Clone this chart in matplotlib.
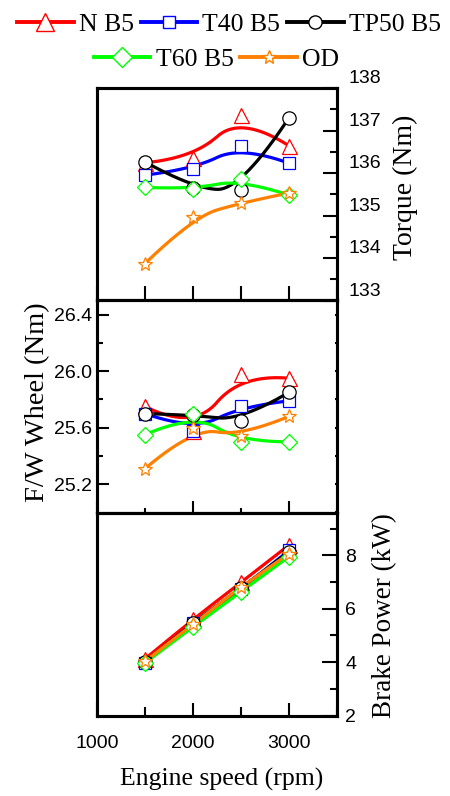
import numpy as np
import matplotlib
matplotlib.use("Agg")
import matplotlib.pyplot as plt
from matplotlib.lines import Line2D
from matplotlib.ticker import MultipleLocator, FixedLocator

# ---------------- data ----------------
speed_rpm = [1500, 2000, 2500, 3000]
series_names = ["N B5", "T40 B5", "TP50 B5", "T60 B5", "OD"]

torque_nb5 = [136.24, 136.35, 137.36, 136.64]
torque_t40b5 = [135.95, 136.09, 136.64, 136.23]
torque_tp50b5 = [136.26, 135.64, 135.59, 137.30]
torque_t60b5 = [135.66, 135.62, 135.85, 135.48]
torque_od = [133.87, 134.96, 135.30, 135.53]

fw_nb5 = [25.75, 25.58, 25.98, 25.95]
fw_t40b5 = [25.70, 25.58, 25.75, 25.79]
fw_tp50b5 = [25.70, 25.69, 25.65, 25.85]
fw_t60b5 = [25.55, 25.70, 25.50, 25.50]
fw_od = [25.31, 25.60, 25.54, 25.68]

bp_nb5 = [4.12, 5.60, 6.98, 8.38]
bp_t40b5 = [3.98, 5.48, 6.72, 8.18]
bp_tp50b5 = [4.02, 5.45, 6.78, 8.12]
bp_t60b5 = [3.97, 5.32, 6.63, 7.95]
bp_od = [4.03, 5.42, 6.82, 8.06]

torque_ticks = [133, 134, 135, 136, 137, 138]

# ---------------- style ----------------
colors = ["#FF0000", "#0000FF", "#000000", "#00FF00", "#FF8000"]
markers = ["^", "s", "o", "D", "*"]
msizes = [10.8, 9.0, 9.6, 8.0, 10.5]
leg_msizes = [12.5, 8.5, 9.5, 10.0, 10.5]

SERIF = ["Liberation Serif", "DejaVu Serif"]
SANS = ["Liberation Sans", "DejaVu Sans"]
plt.rcParams["font.family"] = SANS


def bspline2(x, y, n=80):
    """Clamped quadratic B-spline using the data points as control points."""
    P = np.column_stack([x, y]).astype(float)
    k = len(P)
    mids = [(P[i] + P[i + 1]) / 2 for i in range(1, k - 2)]
    starts = [P[0]] + mids
    ends = mids + [P[-1]]
    ctrl = P[1:-1]
    t = np.linspace(0, 1, n)[:, None]
    pts = [(1 - t) ** 2 * s + 2 * t * (1 - t) * c + t ** 2 * e
           for s, c, e in zip(starts, ctrl, ends)]
    pts = np.vstack(pts)
    return pts[:, 0], pts[:, 1]


W, H = 450, 796
fig = plt.figure(figsize=(W / 100, H / 100), dpi=100)


def px_axes(top, bottom, left=97, right=337):
    return fig.add_axes([left / W, (H - bottom) / H, (right - left) / W, (bottom - top) / H])


ax1 = px_axes(88, 300.5)
ax2 = px_axes(300.5, 512.5)
ax3 = px_axes(512.5, 715.5)

panels = [
    (ax1, [torque_nb5, torque_t40b5, torque_tp50b5, torque_t60b5, torque_od]),
    (ax2, [fw_nb5, fw_t40b5, fw_tp50b5, fw_t60b5, fw_od]),
    (ax3, [bp_nb5, bp_t40b5, bp_tp50b5, bp_t60b5, bp_od]),
]

for ax, data in panels:
    for vals, c, m, ms in zip(data, colors, markers, msizes):
        xs, ys = bspline2(speed_rpm, vals)
        ax.plot(xs, ys, color=c, lw=2.3, solid_capstyle="round", zorder=2)
        ax.plot(speed_rpm, vals, ls="none", marker=m, ms=ms, mfc="white",
                mec=c, mew=0.9, zorder=3)
    ax.set_xlim(1000, 3500)
    for sp in ax.spines.values():
        sp.set_linewidth(2.2)
    ax.xaxis.set_major_locator(MultipleLocator(1000))
    ax.xaxis.set_minor_locator(MultipleLocator(500))

# ---- top panel: torque ----
ax1.set_ylim(133, 138)
ax1.yaxis.set_major_locator(MultipleLocator(0.5))
ax1.tick_params(axis="y", which="both", direction="in", left=True, right=False,
                labelleft=False, length=1.5, width=1.5)
ax1.tick_params(axis="x", which="both", direction="in", bottom=True, top=False,
                labelbottom=False, length=10, width=1.5)
ax1r = ax1.twinx()
ax1r.set_ylim(133, 138)
ax1r.yaxis.set_major_locator(MultipleLocator(1))
ax1r.yaxis.set_minor_locator(MultipleLocator(0.5))
ax1r.tick_params(axis="y", which="major", direction="in", length=10, width=1.5,
                 labelright=False)
ax1r.tick_params(axis="y", which="minor", direction="in", length=5, width=1.5)
for sp in ax1r.spines.values():
    sp.set_linewidth(2.2)
for v in torque_ticks:
    ax1r.annotate(str(v), xy=(1, v), xycoords=("axes fraction", "data"),
                  xytext=(8.6, 6.5), textcoords="offset points",
                  ha="left", va="center", fontsize=14, family=SANS)

# ---- middle panel: F/W wheel ----
ax2.set_ylim(25.0, 26.5)
ax2.yaxis.set_major_locator(FixedLocator([25.2, 25.6, 26.0, 26.4]))
ax2.yaxis.set_minor_locator(FixedLocator([25.4, 25.8, 26.2]))
ax2.yaxis.set_major_formatter(matplotlib.ticker.FormatStrFormatter("%.1f"))
ax2.tick_params(axis="y", which="major", direction="in", left=True, right=False,
                length=8.5, width=1.5, labelsize=14, pad=3.5)
ax2.tick_params(axis="y", which="minor", direction="in", left=True, right=False,
                length=4.3, width=1.5)
ax2.tick_params(axis="x", which="major", direction="in", bottom=True, top=False,
                labelbottom=False, length=8.5, width=1.5)
ax2.tick_params(axis="x", which="minor", direction="in", bottom=True, top=False,
                length=3.6, width=1.5)
ax2r = ax2.twinx()
ax2r.set_ylim(25.0, 26.5)
ax2r.yaxis.set_major_locator(MultipleLocator(0.2))
ax2r.tick_params(axis="y", which="both", direction="in", length=1.5, width=1.5,
                 labelright=False)
for sp in ax2r.spines.values():
    sp.set_linewidth(2.2)

# ---- bottom panel: brake power ----
ax3.set_ylim(2, 9.6)
ax3.yaxis.set_major_locator(MultipleLocator(1))
ax3.tick_params(axis="y", which="both", direction="in", left=True, right=False,
                labelleft=False, length=1.5, width=1.5)
ax3.tick_params(axis="x", which="major", direction="in", bottom=True, top=False,
                length=9.5, width=1.5, labelsize=14, pad=14)
ax3.tick_params(axis="x", which="minor", direction="in", bottom=True, top=False,
                length=6.5, width=1.5)
ax3r = ax3.twinx()
ax3r.set_ylim(2, 9.6)
ax3r.yaxis.set_major_locator(MultipleLocator(2))
ax3r.yaxis.set_minor_locator(MultipleLocator(1))
ax3r.tick_params(axis="y", which="major", direction="in", length=11, width=1.5,
                 labelsize=14, pad=5.8)
ax3r.tick_params(axis="y", which="minor", direction="in", length=5, width=1.5)
for sp in ax3r.spines.values():
    sp.set_linewidth(2.2)

# ---- axis titles ----
fig.text(405 / W, (H - 187) / H, "Torque (Nm)", rotation=90, ha="center",
         va="center", fontsize=20, family=SERIF)
fig.text(38 / W, (H - 402) / H, "F/W Wheel (Nm)", rotation=90, ha="center",
         va="center", fontsize=20.5, family=SERIF)
fig.text(385 / W, (H - 616) / H, "Brake Power (kW)", rotation=90, ha="center",
         va="center", fontsize=19.5, family=SERIF)
fig.text(221.5 / W, (H - 779) / H, "Engine speed (rpm)", ha="center",
         va="center", fontsize=18.5, family=SERIF)

# ---- legend (two centred rows) ----
handles = [Line2D([0], [0], color=c, lw=2.8, marker=m, ms=ms, mfc="white",
                  mec=c, mew=1.0)
           for c, m, ms in zip(colors, markers, leg_msizes)]
common = dict(frameon=False, handlelength=2.2, handletextpad=0.2,
              columnspacing=0.27, borderpad=0, borderaxespad=0,
              prop={"family": SERIF, "size": 18.5})
leg1 = fig.legend(handles[:3], series_names[:3], ncol=3, loc="center",
                  bbox_to_anchor=(229 / W, (H - 25) / H), **common)
leg2 = fig.legend(handles[3:], series_names[3:], ncol=2, loc="center",
                  bbox_to_anchor=(216.5 / W, (H - 60) / H), **common)

fig.savefig("out.png", dpi=100)
